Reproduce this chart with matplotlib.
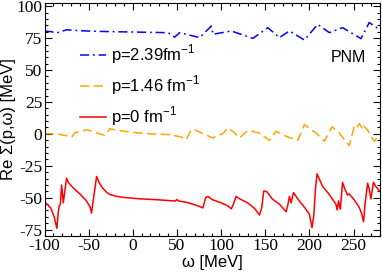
import matplotlib
matplotlib.use("Agg")
import matplotlib.pyplot as plt
from matplotlib.ticker import MultipleLocator

plt.rcParams['axes.unicode_minus'] = False
plt.rcParams['font.family'] = ['Liberation Sans', 'DejaVu Sans']

# p = 0 fm^-1 (red, solid)
w_p0 = [-100, -93, -89, -86, -84.5, -83.6, -82, -80.6, -78.7, -77, -75, -73, -68, -60, -53, -48.5,
        -46.7, -44, -41, -38, -34, -30, -26, -18, -10, 0, 10, 20, 30, 40, 48, 50, 52, 60, 70,
        76, 79.4, 82.5, 85, 90, 100, 108, 111.5, 114, 117, 120, 130, 138, 143.5, 146, 148.4,
        151.7, 158, 166, 173.6, 175.5, 177.4, 179.3, 182, 188, 195, 200, 203, 205, 207,
        208.7, 211, 215, 222, 230, 231.5, 233, 235, 237.6, 240, 243.3, 245, 250, 256, 259,
        261.4, 263, 266, 268, 269.7, 272.6, 275, 280]
v_p0 = [-53, -58, -65, -74, -62, -57, -55, -40, -54, -45, -34.7, -38, -42, -47, -52, -57,
        -62, -48, -33.4, -38.5, -42.5, -45.5, -47.5, -49, -49.8, -50.4, -51, -51.3, -51.7, -52.2, -52.6, -51.5, -52.6, -53.5, -55.5,
        -57, -58, -50, -49, -51.5, -54, -56.5, -58.8, -55, -49, -50.5, -54, -58.5, -63.5, -58, -44.7,
        -45.2, -51, -55, -61, -56, -49, -54, -46, -52, -58, -63, -73.5, -64, -42,
        -31.3, -35, -41.2, -47, -55, -59.6, -52.5, -59, -38, -43, -48, -47, -51, -57, -62,
        -68.8, -55, -38.6, -44, -51, -38, -41, -45]

# p = 1.46 fm^-1 (orange, dashed)
w_p146 = [-100, -85, -69, -65.5, -60, -52, -42, -31.6, -26, -15, 0, 20, 41.8, 55, 60.7, 66, 70,
          80, 90.7, 102, 107.7, 115, 120.9, 130.3, 143.5, 154.8, 162.4, 173.6, 186.8, 194.4,
          207.5, 217, 225.6, 233.9, 245.2, 250.8, 253, 256.5, 259.5, 260.2, 266, 273.4, 279]
v_p146 = [0.2, 0, -2.4, 1, 1.5, 3.3, 1, -1.2, 4, 2.5, 1.2, 0, -0.6, -2.5, -4.6, 3.3, 3.3,
          0, -3.2, 0.2, 4.6, 1, -3.2, 2.8, 0.7, -5.1, 2.1, -1.9, -5.1, 7.2,
          0.7, -5.8, 5.5, 0.7, -9.3, 5.9, 4.5, 8.0, 4.6, 7, 3, -5.9, -0.6]

# p = 2.39 fm^-1 (blue, dash-dot)
w_p239 = [-100, -92, -86.5, -75, -60, -40, -20, 0, 20, 40, 47.5, 53, 75.7, 89, 90.7, 111.5,
          136, 152.9, 166, 177.4, 194.4, 209.4, 222.6, 237.6, 258.4, 267.8, 279]
v_p239 = [80.6, 80, 79, 81.5, 80.8, 80.3, 80, 79.8, 79.5, 79.3, 75.8, 79.3, 75.4, 84.5, 78, 80.6,
          74.8, 83.2, 75.4, 80.6, 73.5, 85.8, 79.3, 83.2, 74.6, 87.2, 81.9]

x_ticks = [-100, -50, 0, 50, 100, 150, 200, 250]
y_ticks = [-75, -50, -25, 0, 25, 50, 75, 100]

fig = plt.figure(figsize=(3.82, 2.74), dpi=100)
ax = fig.add_axes([0.1165, 0.1387, 0.8783, 0.8503])

l_red, = ax.plot(w_p0, v_p0, color='#FF0000', lw=1.1, label=r'p=0 fm$^{\mathregular{-1}}$')
l_org, = ax.plot(w_p146, v_p146, color='#FFA500', lw=1.1, dashes=(6, 3),
                 label=r'p=1.46 fm$^{\mathregular{-1}}$')
l_blu, = ax.plot(w_p239, v_p239, color='#0000FF', lw=1.1, dashes=(6, 2.5, 1.2, 2.5),
                 label=r'p=2.39fm$^{\mathregular{-1}}$')

ax.set_xlim(-100, 280)
ax.set_ylim(-80, 102.5)
ax.set_xticks(x_ticks)
ax.set_yticks(y_ticks)
ax.xaxis.set_minor_locator(MultipleLocator(10))
ax.yaxis.set_minor_locator(MultipleLocator(5))
ax.tick_params(which='both', direction='in', top=True, right=True, width=0.8)
ax.tick_params(which='major', length=5, pad=1.5)
ax.tick_params(which='minor', length=2.5)
for lab in ax.get_xticklabels() + ax.get_yticklabels():
    lab.set_family('Liberation Serif')
    lab.set_fontsize(12.5)
for s in ax.spines.values():
    s.set_linewidth(0.8)

ax.set_xlabel('ω [MeV]', fontsize=12, labelpad=1)
ax.set_ylabel('Re Σ(p,ω) [MeV]', fontsize=12, labelpad=0)

ax.legend(handles=[l_blu, l_org, l_red], loc='upper left', bbox_to_anchor=(0.105, 0.83),
          frameon=False, fontsize=12, handlelength=1.6, handletextpad=0.3,
          labelspacing=0.45, borderpad=0, borderaxespad=0)
ax.text(0.905, 0.765, 'PNM', transform=ax.transAxes, fontsize=11.5, ha='center', va='center')

fig.savefig('out.png', dpi=100)
